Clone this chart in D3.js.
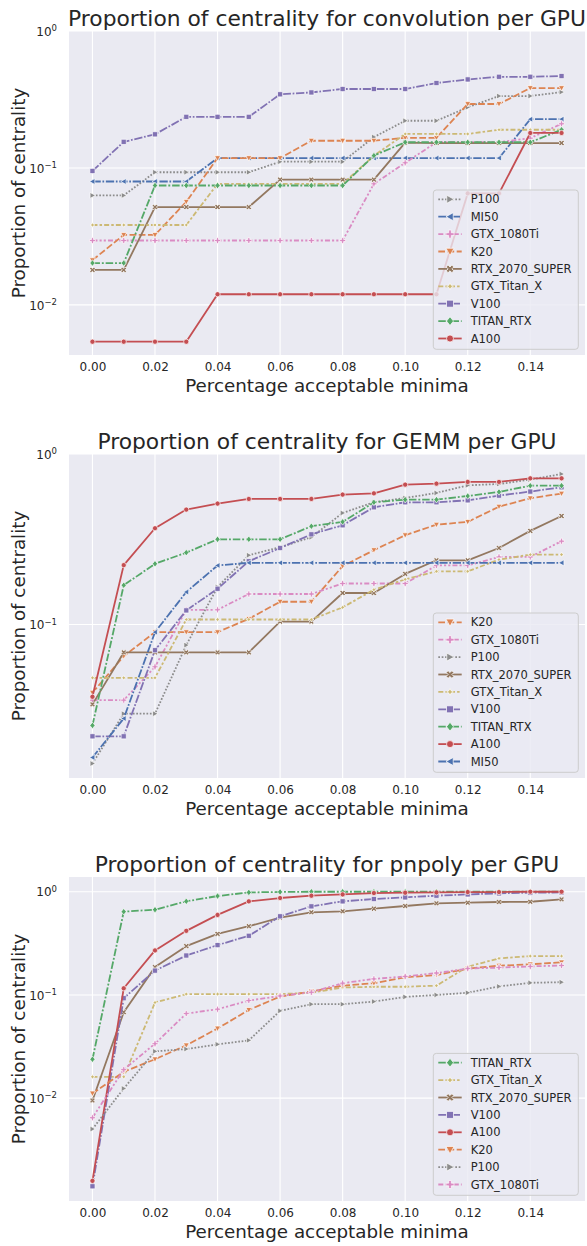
<!DOCTYPE html>
<html><head><meta charset="utf-8">
<script src="https://cdn.jsdelivr.net/npm/d3@7"></script>
<style>
body{margin:0;background:#fff}
svg{display:block}
text{font-family:"DejaVu Sans",sans-serif;fill:#262626}
</style>
</head><body>
<svg id="chart" width="587" height="1246"></svg>
<script>
// ---------- data ----------
const xValues = [0.00,0.01,0.02,0.03,0.04,0.05,0.06,0.07,0.08,0.09,0.10,0.11,0.12,0.13,0.14,0.15];
const xTickValues = [0.00,0.02,0.04,0.06,0.08,0.10,0.12,0.14];
const xTickLabels = ["0.00","0.02","0.04","0.06","0.08","0.10","0.12","0.14"];
const titles = ["Proportion of centrality for convolution per GPU","Proportion of centrality for GEMM per GPU","Proportion of centrality for pnpoly per GPU"];
const xLabelText = "Percentage acceptable minima";
const yLabelText = "Proportion of centrality";

// convolution (legend order)
const convOrder = ["P100","MI50","GTX_1080Ti","K20","RTX_2070_SUPER","GTX_Titan_X","V100","TITAN_RTX","A100"];
const conv_P100 = [0.063,0.063,0.093,0.093,0.093,0.093,0.111,0.111,0.111,0.168,0.221,0.221,0.277,0.335,0.335,0.358];
const conv_MI50 = [0.0796,0.0796,0.0796,0.0796,0.118,0.118,0.118,0.118,0.118,0.118,0.118,0.118,0.118,0.118,0.227,0.227];
const conv_GTX_1080Ti = [0.0295,0.0295,0.0295,0.0295,0.0295,0.0295,0.0295,0.0295,0.0295,0.0765,0.109,0.154,0.154,0.154,0.165,0.210];
const conv_K20 = [0.0212,0.0324,0.0324,0.0566,0.118,0.118,0.118,0.158,0.158,0.158,0.166,0.166,0.293,0.293,0.383,0.383];
const conv_RTX_2070_SUPER = [0.018,0.018,0.0518,0.0518,0.0518,0.0518,0.0822,0.0822,0.0822,0.0822,0.153,0.152,0.152,0.152,0.152,0.152];
const conv_GTX_Titan_X = [0.0383,0.0383,0.0383,0.0383,0.0765,0.0765,0.0765,0.0765,0.0765,0.123,0.177,0.177,0.177,0.190,0.190,0.190];
const conv_V100 = [0.095,0.155,0.176,0.236,0.236,0.236,0.345,0.356,0.377,0.377,0.377,0.417,0.443,0.463,0.463,0.469];
const conv_TITAN_RTX = [0.0202,0.0202,0.0744,0.0744,0.0744,0.0744,0.0744,0.0744,0.0744,0.123,0.154,0.154,0.154,0.154,0.154,0.190];
const conv_A100 = [0.00538,0.00538,0.00538,0.00538,0.01195,0.01195,0.01195,0.01195,0.01195,0.01195,0.01195,0.01195,0.0652,0.0652,0.180,0.180];

// GEMM (legend order)
const gemmOrder = ["K20","GTX_1080Ti","P100","RTX_2070_SUPER","GTX_Titan_X","V100","TITAN_RTX","A100","MI50"];
const gemm_K20 = [0.0398,0.0652,0.0902,0.0902,0.0902,0.108,0.136,0.136,0.220,0.273,0.334,0.385,0.400,0.491,0.550,0.586];
const gemm_GTX_1080Ti = [0.036,0.036,0.0565,0.122,0.122,0.151,0.151,0.151,0.174,0.174,0.174,0.222,0.222,0.249,0.249,0.308];
const gemm_P100 = [0.0153,0.030,0.030,0.0757,0.166,0.255,0.284,0.325,0.451,0.521,0.552,0.591,0.655,0.667,0.708,0.763];
const gemm_RTX_2070_SUPER = [0.034,0.0686,0.0686,0.0686,0.0686,0.0686,0.104,0.104,0.153,0.153,0.198,0.238,0.238,0.281,0.354,0.433];
const gemm_GTX_Titan_X = [0.0487,0.0487,0.0487,0.107,0.107,0.107,0.107,0.107,0.126,0.160,0.184,0.205,0.205,0.240,0.257,0.257];
const gemm_V100 = [0.0221,0.0221,0.0707,0.121,0.162,0.235,0.281,0.338,0.382,0.487,0.521,0.521,0.535,0.570,0.602,0.638];
const gemm_TITAN_RTX = [0.0256,0.170,0.227,0.264,0.316,0.316,0.316,0.377,0.400,0.521,0.540,0.540,0.567,0.599,0.652,0.652];
const gemm_A100 = [0.0377,0.223,0.367,0.472,0.512,0.545,0.545,0.545,0.578,0.588,0.661,0.670,0.686,0.686,0.720,0.720];
const gemm_MI50 = [0.0166,0.0281,0.0902,0.155,0.222,0.230,0.230,0.230,0.230,0.230,0.230,0.230,0.230,0.230,0.230,0.230];

// pnpoly (legend order)
const pnpOrder = ["TITAN_RTX","GTX_Titan_X","RTX_2070_SUPER","V100","A100","K20","P100","GTX_1080Ti"];
const pnp_TITAN_RTX = [0.0238,0.641,0.670,0.807,0.908,0.985,0.995,1.0,1.0,1.0,1.0,1.0,1.0,1.0,1.0,1.0];
const pnp_GTX_Titan_X = [0.0161,0.0161,0.0844,0.102,0.102,0.102,0.102,0.105,0.118,0.120,0.120,0.123,0.188,0.226,0.238,0.238];
const pnp_RTX_2070_SUPER = [0.00949,0.068,0.186,0.297,0.391,0.463,0.561,0.632,0.646,0.685,0.727,0.772,0.783,0.795,0.800,0.843];
const pnp_V100 = [0.0014,0.093,0.172,0.241,0.304,0.374,0.578,0.722,0.807,0.850,0.882,0.915,0.942,0.964,0.978,0.985];
const pnp_A100 = [0.00158,0.116,0.270,0.418,0.596,0.807,0.869,0.915,0.942,0.971,0.978,0.985,0.993,0.993,1.0,1.0];
const pnp_K20 = [0.0111,0.0180,0.0238,0.0325,0.0473,0.0716,0.0964,0.108,0.123,0.130,0.148,0.156,0.180,0.192,0.198,0.207];
const pnp_P100 = [0.00502,0.0124,0.0284,0.0299,0.0332,0.0363,0.0701,0.0813,0.0813,0.0862,0.0957,0.100,0.105,0.121,0.131,0.133];
const pnp_GTX_1080Ti = [0.00646,0.0189,0.0337,0.066,0.0727,0.0882,0.0977,0.106,0.130,0.143,0.151,0.163,0.180,0.184,0.189,0.193];

// ---------- styles ----------
const gpuStyle = {
  MI50:           {color:"#4C72B0", dash:"8.3,1.7,1.7,1.7", marker:"triLeft"},
  K20:            {color:"#DD8452", dash:"6.7,2.5",          marker:"triDown"},
  TITAN_RTX:      {color:"#55A868", dash:"7.5,1.9,1.9,1.9", marker:"diamond"},
  A100:           {color:"#C44E52", dash:null,               marker:"circle"},
  V100:           {color:"#8172B3", dash:"8.3,1.7,1.7,1.7", marker:"square"},
  RTX_2070_SUPER: {color:"#937860", dash:null,               marker:"x"},
  GTX_1080Ti:     {color:"#DA8BC3", dash:"5,2.1,2.1,2.1,2.1,2.1", marker:"plus"},
  P100:           {color:"#8C8C8C", dash:"1.7,1.7",          marker:"triRight"},
  GTX_Titan_X:    {color:"#CCB974", dash:"5,2.1,2.5,2.1",    marker:"star4"}
};

const panels = [
  {title:titles[0], order:convOrder, yTop:1, series:{P100:conv_P100,MI50:conv_MI50,GTX_1080Ti:conv_GTX_1080Ti,K20:conv_K20,RTX_2070_SUPER:conv_RTX_2070_SUPER,GTX_Titan_X:conv_GTX_Titan_X,V100:conv_V100,TITAN_RTX:conv_TITAN_RTX,A100:conv_A100}},
  {title:titles[1], order:gemmOrder, yTop:1, series:{K20:gemm_K20,GTX_1080Ti:gemm_GTX_1080Ti,P100:gemm_P100,RTX_2070_SUPER:gemm_RTX_2070_SUPER,GTX_Titan_X:gemm_GTX_Titan_X,V100:gemm_V100,TITAN_RTX:gemm_TITAN_RTX,A100:gemm_A100,MI50:gemm_MI50}},
  {title:titles[2], order:pnpOrder, yTop:null, series:{TITAN_RTX:pnp_TITAN_RTX,GTX_Titan_X:pnp_GTX_Titan_X,RTX_2070_SUPER:pnp_RTX_2070_SUPER,V100:pnp_V100,A100:pnp_A100,K20:pnp_K20,P100:pnp_P100,GTX_1080Ti:pnp_GTX_1080Ti}}
];

// ---------- layout ----------
const plotLeft = 69, plotRight = 585, plotH = 324;
const panelTops = [31, 454, 877];
const lineW = 1.8;

function markerPath(type, r) {
  switch (type) {
    case "circle": return d3.symbol(d3.symbolCircle, Math.PI*r*r)();
    case "square": return `M${-r},${-r}h${2*r}v${2*r}h${-2*r}Z`;
    case "diamond": { const q=r*1.25; return `M0,${-q}L${q*0.8},0L0,${q}L${-q*0.8},0Z`; }
    case "triDown": { const q=r*1.15; return `M${-q},${-q*0.8}L${q},${-q*0.8}L0,${q}Z`; }
    case "triRight": { const q=r*1.15; return `M${-q*0.8},${-q}L${q},0L${-q*0.8},${q}Z`; }
    case "triLeft": { const q=r*1.15; return `M${q*0.8},${-q}L${-q},0L${q*0.8},${q}Z`; }
    case "plus": return d3.symbol(d3.symbolCross, (r*2.3/3)*(r*2.3/3)*5)();
    case "x": return d3.symbol(d3.symbolCross, (r*2.3/3)*(r*2.3/3)*5)();
    case "star4": {
      const q=r*0.95, i=q*0.35;
      return `M0,${-q}L${i},${-i}L${q},0L${i},${i}L0,${q}L${-i},${i}L${-q},0L${-i},${-i}Z`;
    }
  }
}
function markerRotate(type){ return type==="x" ? 45 : 0; }

const svg = d3.select("#chart");
const xPad = 0.05*(d3.max(xValues)-d3.min(xValues));
const x = d3.scaleLinear().domain([d3.min(xValues)-xPad, d3.max(xValues)+xPad]).range([plotLeft, plotRight]);

panels.forEach((p, pi) => {
  const top = panelTops[pi], bottom = top + plotH;
  const all = [];
  p.order.forEach(n => p.series[n].forEach(v => all.push(Math.log10(v))));
  const lo = d3.min(all), hi = d3.max(all), span = hi - lo;
  const lBottom = lo - 0.05*span;
  const lTop = p.yTop != null ? Math.log10(p.yTop) : hi + 0.05*span;
  const y = d3.scaleLog().domain([Math.pow(10,lBottom), Math.pow(10,lTop)]).range([bottom, top]);

  const g = svg.append("g");
  const clipId = "clip"+pi;
  g.append("clipPath").attr("id", clipId).append("rect")
    .attr("x", plotLeft).attr("y", top).attr("width", plotRight-plotLeft).attr("height", plotH);

  g.append("rect").attr("x", plotLeft).attr("y", top).attr("width", plotRight-plotLeft).attr("height", plotH)
    .attr("fill", "#EAEAF2");

  // decades
  const decades = d3.range(Math.ceil(lBottom-1e-9), Math.floor(lTop+1e-9)+1).map(e => Math.pow(10,e));

  // grid
  g.append("g").selectAll("line").data(xTickValues).join("line")
    .attr("x1", d=>x(d)).attr("x2", d=>x(d)).attr("y1", top).attr("y2", bottom)
    .attr("stroke", "#fff").attr("stroke-width", 1.1);
  g.append("g").selectAll("line").data(decades).join("line")
    .attr("x1", plotLeft).attr("x2", plotRight).attr("y1", d=>y(d)).attr("y2", d=>y(d))
    .attr("stroke", "#fff").attr("stroke-width", 1.1);

  // x axis
  const xa = g.append("g").attr("transform", `translate(0,${bottom})`)
    .call(d3.axisBottom(x).tickValues(xTickValues).tickFormat((d,i)=>xTickLabels[i]).tickSize(0).tickPadding(7));
  xa.select(".domain").remove();
  xa.selectAll("text").attr("font-size", 12).attr("font-family", "DejaVu Sans").attr("fill", "#262626");

  // y axis
  const ya = g.append("g").attr("transform", `translate(${plotLeft},0)`)
    .call(d3.axisLeft(y).tickValues(decades).tickSize(0).tickPadding(12).tickFormat(d=>""));
  ya.select(".domain").remove();
  ya.selectAll(".tick text").each(function(d){
    const t = d3.select(this).attr("font-size", 12).attr("font-family","DejaVu Sans").attr("fill","#262626").attr("dy", "0.35em");
    const e = Math.round(Math.log10(d));
    t.append("tspan").text("10");
    t.append("tspan").attr("font-size", 8.5).attr("dy", "-0.55em").text(e < 0 ? "\u2212"+(-e) : String(e));
  });

  // title & labels
  g.append("text").attr("x", (plotLeft+plotRight)/2).attr("y", top-13).attr("dy","0.35em")
    .attr("text-anchor","middle").attr("font-size", 21.8).text(p.title);
  g.append("text").attr("x", (plotLeft+plotRight)/2).attr("y", bottom+31).attr("dy","0.35em")
    .attr("text-anchor","middle").attr("font-size", 18.3).text(xLabelText);
  g.append("text").attr("transform", `translate(18.5,${(top+bottom)/2}) rotate(-90)`).attr("dy","0.35em")
    .attr("text-anchor","middle").attr("font-size", 18.3).text(yLabelText);

  // series
  const plotG = g.append("g").attr("clip-path", `url(#${clipId})`);
  const line = d3.line().x((d,i)=>x(xValues[i])).y(d=>y(d));
  p.order.forEach(name => {
    const st = gpuStyle[name], vals = p.series[name];
    const sg = plotG.append("g");
    sg.append("path").attr("d", line(vals)).attr("fill","none").attr("stroke", st.color)
      .attr("stroke-width", lineW).attr("stroke-dasharray", st.dash).attr("stroke-linejoin","round");
    sg.selectAll("path.m").data(vals).join("path").attr("class","m")
      .attr("d", markerPath(st.marker, 2.6))
      .attr("transform", (d,i)=>`translate(${x(xValues[i])},${y(d)}) rotate(${markerRotate(st.marker)})`)
      .attr("fill", st.color).attr("stroke", "#fff").attr("stroke-width", 0.7);
  });

  // legend
  const n = p.order.length, rowH = 17.4;
  const lw = 145, lh = n*rowH + 2.7;
  const lx = plotRight - 6.7 - lw, ly = bottom - 5.7 - lh;
  const lg = g.append("g");
  lg.append("rect").attr("x", lx).attr("y", ly).attr("width", lw).attr("height", lh).attr("rx", 3)
    .attr("fill", "rgba(234,234,242,0.8)").attr("stroke", "#cccccc").attr("stroke-width", 1);
  p.order.forEach((name, i) => {
    const st = gpuStyle[name], cy = ly + 9.3 + i*rowH;
    lg.append("line").attr("x1", lx+5).attr("x2", lx+28.4).attr("y1", cy).attr("y2", cy)
      .attr("stroke", st.color).attr("stroke-width", lineW).attr("stroke-dasharray", st.dash);
    lg.append("path").attr("d", markerPath(st.marker, 3.5))
      .attr("transform", `translate(${lx+16.7},${cy}) rotate(${markerRotate(st.marker)})`)
      .attr("fill", st.color).attr("stroke", "#fff").attr("stroke-width", 0.7);
    lg.append("text").attr("x", lx+37.4).attr("y", cy).attr("dy","0.35em").attr("font-size", 11.5).text(name);
  });
});
</script>
</body></html>
